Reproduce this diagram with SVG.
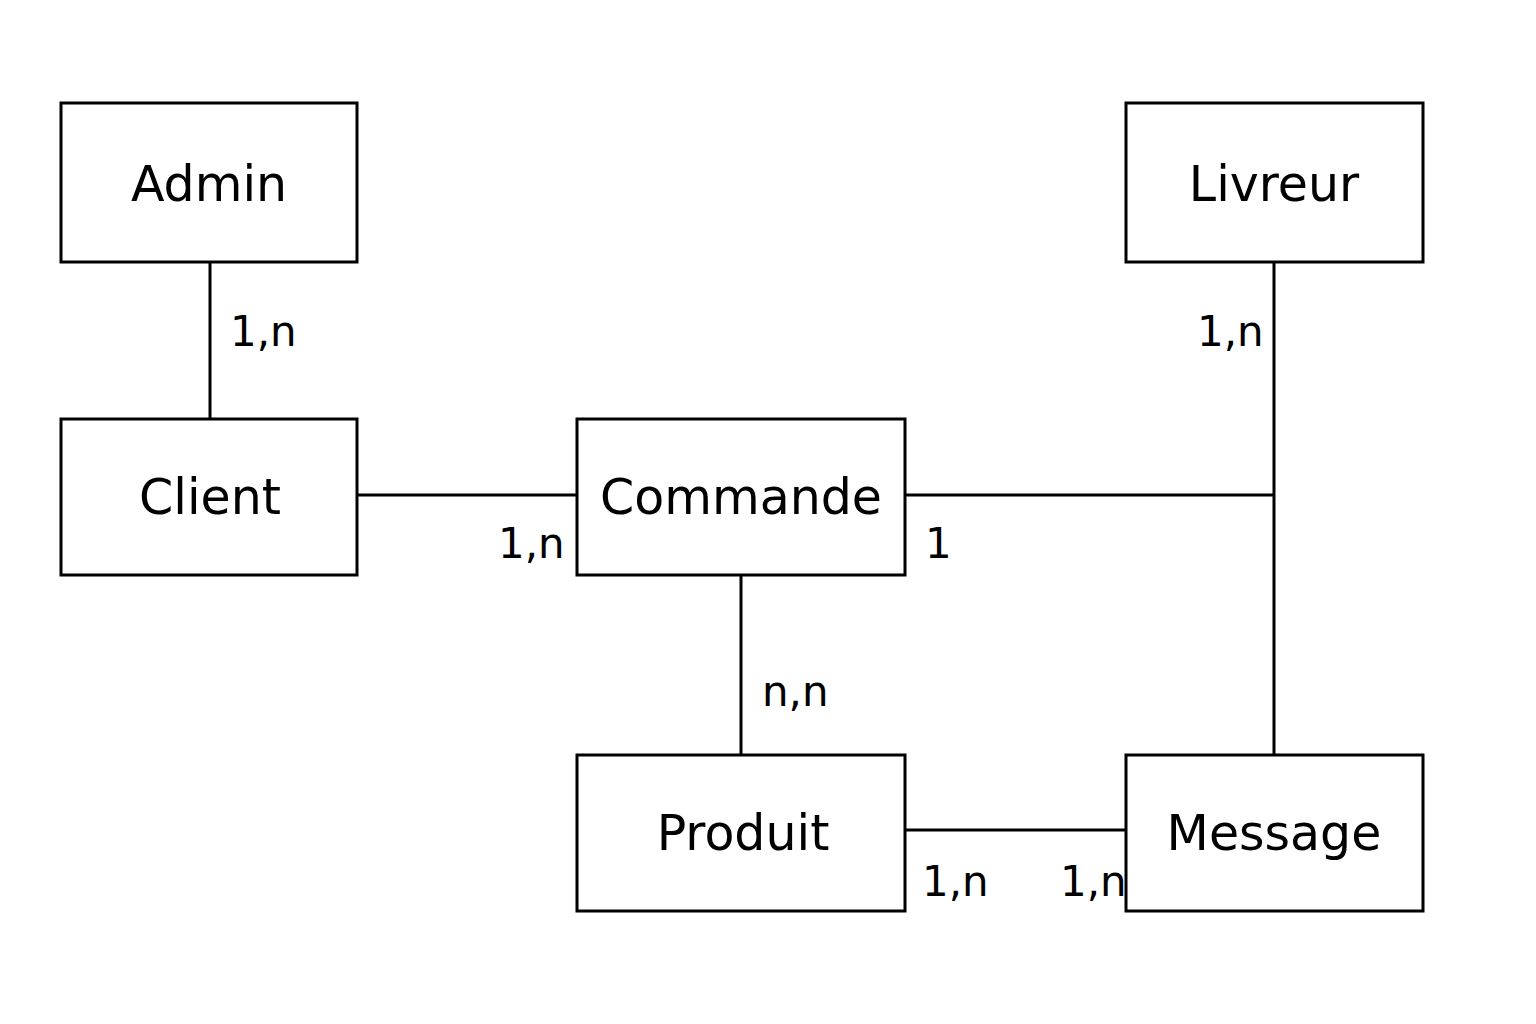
<svg xmlns="http://www.w3.org/2000/svg" width="1536" height="1024" viewBox="0 0 1536 1024">
<style>
.box{fill:#fff;stroke:#000;stroke-width:3}
.ln{stroke:#000;stroke-width:3;fill:none}
.t{font-family:"DejaVu Sans",sans-serif;font-size:49px;fill:#000;text-anchor:middle}
.l{font-family:"DejaVu Sans",sans-serif;font-size:42px;fill:#000}
</style>
<rect width="1536" height="1024" fill="#fff"/>
<g id="connectors">
<line class="ln" x1="210" y1="262" x2="210" y2="419"/>
<line class="ln" x1="357" y1="495" x2="577" y2="495"/>
<line class="ln" x1="905" y1="495" x2="1274" y2="495"/>
<line class="ln" x1="1274" y1="262" x2="1274" y2="755"/>
<line class="ln" x1="741" y1="575" x2="741" y2="755"/>
<line class="ln" x1="905" y1="830" x2="1126" y2="830"/>
<text class="l" x="230" y="346">1,n</text>
<text class="l" x="1197" y="346">1,n</text>
<text class="l" x="498" y="558">1,n</text>
<text class="l" x="925" y="558">1</text>
<text class="l" x="762" y="706">n,n</text>
<text class="l" x="922" y="896">1,n</text>
<text class="l" x="1060" y="896">1,n</text>
</g>
<g id="admin"><rect class="box" x="61" y="103" width="296" height="159"/><text class="t" x="209" y="201">Admin</text></g>
<g id="livreur"><rect class="box" x="1126" y="103" width="297" height="159"/><text class="t" x="1274" y="201">Livreur</text></g>
<g id="client"><rect class="box" x="61" y="419" width="296" height="156"/><text class="t" x="210" y="514">Client</text></g>
<g id="commande"><rect class="box" x="577" y="419" width="328" height="156"/><text class="t" x="741" y="514">Commande</text></g>
<g id="produit"><rect class="box" x="577" y="755" width="328" height="156"/><text class="t" x="743" y="850">Produit</text></g>
<g id="message"><rect class="box" x="1126" y="755" width="297" height="156"/><text class="t" x="1274" y="850">Message</text></g>
</svg>
